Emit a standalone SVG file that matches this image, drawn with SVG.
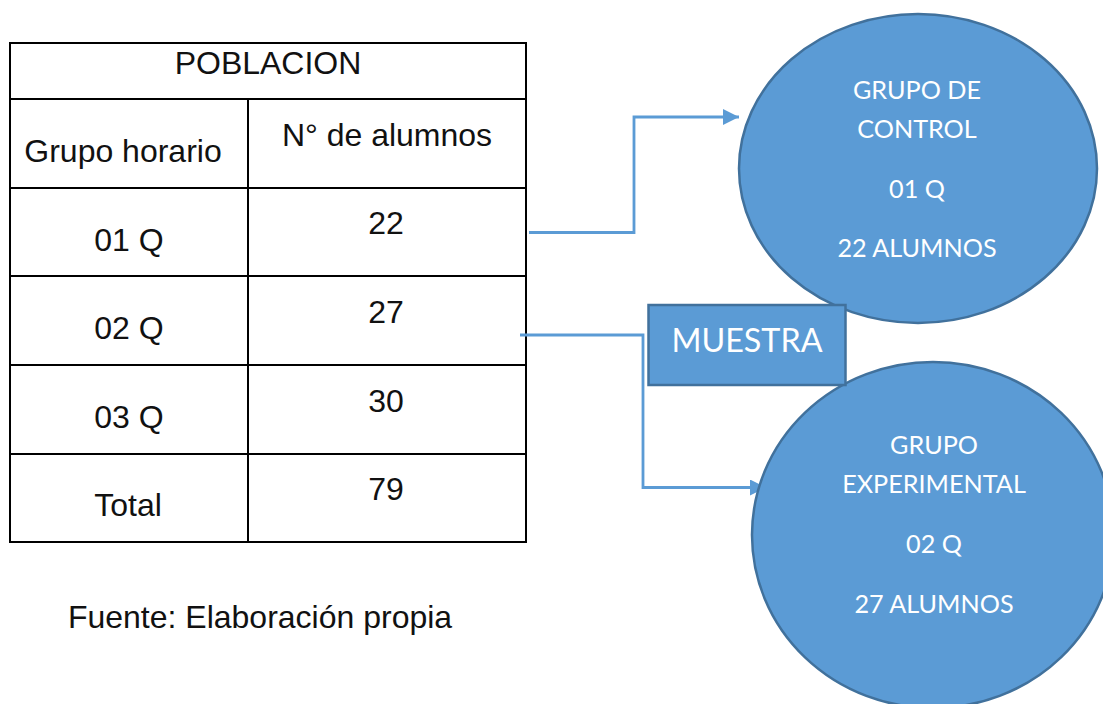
<svg xmlns="http://www.w3.org/2000/svg" width="1103" height="704" viewBox="0 0 1103 704">
<style>
.t{font-family:"Liberation Sans",Arial,sans-serif;font-size:32px;fill:#111;text-anchor:middle}
.w{font-family:Lato,"Open Sans",sans-serif;font-size:25.2px;fill:#fff;text-anchor:middle}
.g{stroke:#000;stroke-width:2;fill:none}
.s{fill:#5b9bd5;stroke:#41719c;stroke-width:2.5}
.c{fill:none;stroke:#5b9bd5;stroke-width:2.8}
</style>
<defs><marker id="a" markerUnits="userSpaceOnUse" markerWidth="16" markerHeight="16" refX="16" refY="8" orient="auto"><path d="M0 0L16 8L0 16Z" fill="#5b9bd5"/></marker></defs>
<rect width="1103" height="704" fill="#fff"/>
<g id="tabla">
<path class="g" d="M10 43H526V542H10ZM10 99H526M10 188H526M10 276H526M10 365H526M10 454H526M248 99V542"/>
<text class="t" x="268" y="74">POBLACION</text>
<text class="t" x="123" y="162">Grupo horario</text>
<text class="t" x="387" y="146">N° de alumnos</text>
<text class="t" x="129" y="251">01 Q</text>
<text class="t" x="386" y="234">22</text>
<text class="t" x="129" y="339">02 Q</text>
<text class="t" x="386" y="323">27</text>
<text class="t" x="129" y="428">03 Q</text>
<text class="t" x="386" y="412">30</text>
<text class="t" x="128" y="516">Total</text>
<text class="t" x="386" y="500">79</text>
</g>
<text id="fuente" class="t" x="260" y="628">Fuente: Elaboración propia</text>
<g id="conectores">
<path class="c" d="M529 232.500H634V117H739" marker-end="url(#a)"/>
<path class="c" d="M520 335H643V487.500H766" marker-end="url(#a)"/>
</g>
<g id="grupo-control">
<ellipse class="s" cx="918" cy="168.500" rx="179" ry="154.500"/>
<text class="w" x="917" y="99">GRUPO DE</text>
<text class="w" x="917" y="138">CONTROL</text>
<text class="w" x="917" y="198">01 Q</text>
<text class="w" x="917" y="257">22 ALUMNOS</text>
</g>
<g id="grupo-experimental">
<ellipse class="s" cx="933" cy="535" rx="181" ry="173"/>
<text class="w" x="934" y="454">GRUPO</text>
<text class="w" x="934" y="493">EXPERIMENTAL</text>
<text class="w" x="934" y="553">02 Q</text>
<text class="w" x="934" y="613">27 ALUMNOS</text>
</g>
<g id="muestra">
<rect class="s" x="648.500" y="305" width="197" height="80"/>
<text class="w" x="747" y="352" style="font-size:32.300px">MUESTRA</text>
</g>
</svg>
